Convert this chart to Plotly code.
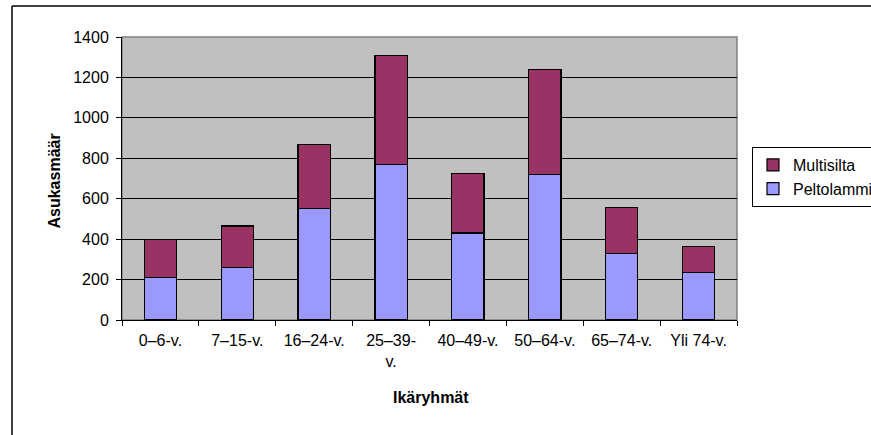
import plotly.graph_objects as go

# Age groups and resident counts per area
categories = ["0–6-v.", "7–15-v.", "16–24-v.", "25–39-<br>v.", "40–49-v.",
              "50–64-v.", "65–74-v.", "Yli 74-v."]
peltolammi = [210, 260, 550, 770, 430, 720, 330, 235]
multisilta = [190, 205, 320, 540, 295, 520, 228, 130]

FONT = "Liberation Sans, Arial, sans-serif"

W, H = 871, 435
L, R, T, B = 122, 134, 37, 115
pw, ph = W - L - R, H - T - B


def px_x(x):
    return (x - L) / pw


def px_y(y):
    return (H - B - y) / ph


fig = go.Figure()
fig.add_trace(go.Bar(
    name="Peltolammi", x=categories, y=peltolammi,
    marker=dict(color="#9999FF", line=dict(color="black", width=1.2)),
))
fig.add_trace(go.Bar(
    name="Multisilta", x=categories, y=multisilta,
    marker=dict(color="#993366", line=dict(color="black", width=1.2)),
))

fig.update_layout(
    width=W, height=H,
    margin=dict(l=L, r=R, t=T, b=B, autoexpand=False),
    barmode="stack", bargap=0.58,
    plot_bgcolor="#C0C0C0", paper_bgcolor="white",
    font=dict(family=FONT, size=16, color="black"),
    showlegend=True,
    legend=dict(
        x=px_x(752), y=px_y(147), xanchor="left", yanchor="top",
        traceorder="reversed", bordercolor="black", borderwidth=1,
        font=dict(family=FONT, size=16, color="black"),
        bgcolor="white", itemwidth=30, tracegroupgap=0,
    ),
    xaxis=dict(
        type="category", tickson="boundaries", ticks="outside", ticklen=5,
        tickcolor="black", showline=True, linecolor="black", linewidth=1,
        showgrid=False, tickfont=dict(size=16), tickangle=0,
        ticklabelstandoff=6,
    ),
    yaxis=dict(
        range=[0, 1400], dtick=200, ticks="outside", ticklen=5,
        tickcolor="black", showline=True, linecolor="black", linewidth=1,
        showgrid=True, gridcolor="black", gridwidth=1, zeroline=False,
        tickfont=dict(size=16), ticklabelstandoff=4,
    ),
    shapes=[
        # gray frame of the plot area
        dict(type="rect", xref="paper", yref="paper", x0=0, y0=0, x1=1, y1=1,
             line=dict(color="#808080", width=1.5), layer="below"),
        # outer chart frame
        dict(type="line", xref="paper", yref="paper",
             x0=px_x(12), y0=px_y(6), x1=px_x(12), y1=px_y(435),
             line=dict(color="black", width=1.5)),
        dict(type="line", xref="paper", yref="paper",
             x0=px_x(12), y0=px_y(6), x1=px_x(871), y1=px_y(6),
             line=dict(color="black", width=1.5)),
    ],
    annotations=[
        dict(text="<b>Asukasmäär</b>", xref="paper", yref="paper",
             x=px_x(43), y=px_y(181), textangle=-90, showarrow=False,
             font=dict(family=FONT, size=16, color="black")),
        dict(text="<b>Ikäryhmät</b>", xref="paper", yref="paper",
             x=px_x(431), y=px_y(408), showarrow=False,
             font=dict(family=FONT, size=16, color="black")),
    ],
)

fig.write_html("out.html")
